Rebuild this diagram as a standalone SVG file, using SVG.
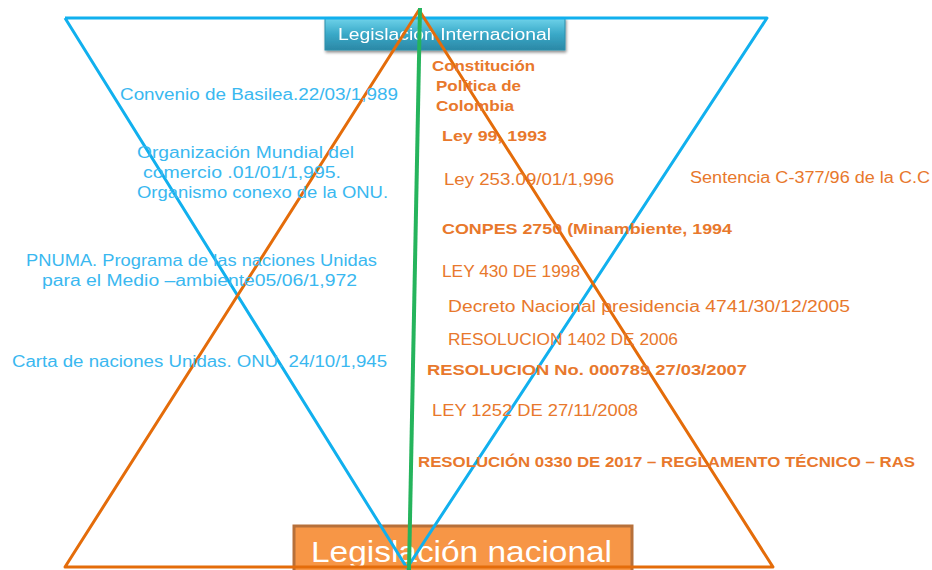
<svg xmlns="http://www.w3.org/2000/svg" width="932" height="570" viewBox="0 0 932 570">
<defs>
<linearGradient id="tealGrad" x1="0" y1="0" x2="0" y2="1">
<stop offset="0" stop-color="#6fd3ea"/>
<stop offset="0.5" stop-color="#3aa9c8"/>
<stop offset="1" stop-color="#2b88a6"/>
</linearGradient>
<filter id="shadow" x="-10%" y="-30%" width="120%" height="170%">
<feGaussianBlur in="SourceAlpha" stdDeviation="1.5"/>
<feOffset dx="1" dy="2" result="b"/>
<feComponentTransfer><feFuncA type="linear" slope="0.45"/></feComponentTransfer>
<feMerge><feMergeNode/><feMergeNode in="SourceGraphic"/></feMerge>
</filter>
</defs>
<style>
text { font-family: "Liberation Sans", Arial, sans-serif; }
.blue { fill: #3ab8f0; font-size: 16px; }
.or { fill: #e8782c; font-size: 16px; }
.orb { fill: #e8782c; font-size: 15px; font-weight: bold; }
.tri-blue { fill: none; stroke: #11b0ee; stroke-width: 3; stroke-linejoin: round; }
.tri-orange { fill: none; stroke: #e46c0a; stroke-width: 3; stroke-linejoin: round; }
.green { stroke: #25b45c; stroke-width: 4; }
</style>
<rect width="932" height="570" fill="#ffffff"/>

<g id="node-internacional" filter="url(#shadow)">
<rect x="325" y="18" width="240" height="32" fill="url(#tealGrad)" stroke="#2f8fab" stroke-width="1"/>
<text x="338" y="40" fill="#ffffff" font-size="16" textLength="213" lengthAdjust="spacingAndGlyphs">Legislación  Internacional</text>
</g>

<g id="node-nacional">
<rect x="294" y="526" width="338" height="50" fill="#f79646" stroke="#b7703a" stroke-width="3"/>
<text x="311" y="562" fill="#ffffff" font-size="30" textLength="301" lengthAdjust="spacingAndGlyphs">Legislación  nacional</text>
</g>

<g id="connectors">
<polyline class="tri-blue" points="65,18 767,18 407,568 65,18"/>
<polygon class="tri-orange" points="419,10 773,567 65,567"/>
<line class="green" x1="420" y1="8" x2="409" y2="570"/>
</g>

<g id="intl-texts">
<text class="blue" x="120" y="100" textLength="278" lengthAdjust="spacingAndGlyphs">Convenio de Basilea.22/03/1,989</text>
<text class="blue" x="137" y="158" textLength="217" lengthAdjust="spacingAndGlyphs">Organización Mundial del</text>
<text class="blue" x="143" y="178" textLength="198" lengthAdjust="spacingAndGlyphs">comercio .01/01/1,995.</text>
<text class="blue" x="137" y="198" textLength="251" lengthAdjust="spacingAndGlyphs">Organismo conexo de la ONU.</text>
<text class="blue" x="26" y="266" textLength="351" lengthAdjust="spacingAndGlyphs">PNUMA. Programa de las naciones Unidas</text>
<text class="blue" x="42" y="286" textLength="315" lengthAdjust="spacingAndGlyphs">para el Medio –ambiente05/06/1,972</text>
<text class="blue" x="12" y="367" textLength="375" lengthAdjust="spacingAndGlyphs">Carta de naciones Unidas. ONU. 24/10/1,945</text>
</g>

<g id="nat-texts">
<text class="orb" x="432" y="71" textLength="103" lengthAdjust="spacingAndGlyphs">Constitución</text>
<text class="orb" x="436" y="91" textLength="85" lengthAdjust="spacingAndGlyphs">Política de</text>
<text class="orb" x="436" y="111" textLength="78" lengthAdjust="spacingAndGlyphs">Colombia</text>
<text class="orb" x="442" y="141" textLength="105" lengthAdjust="spacingAndGlyphs">Ley 99, 1993</text>
<text class="or" x="444" y="185" textLength="170" lengthAdjust="spacingAndGlyphs">Ley 253.09/01/1,996</text>
<text class="or" x="690" y="183" textLength="240" lengthAdjust="spacingAndGlyphs">Sentencia C-377/96 de la C.C</text>
<text class="orb" x="442" y="234" textLength="290" lengthAdjust="spacingAndGlyphs">CONPES 2750 (Minambiente, 1994</text>
<text class="or" x="442" y="277" textLength="138" lengthAdjust="spacingAndGlyphs">LEY 430  DE 1998</text>
<text class="or" x="448" y="312" textLength="402" lengthAdjust="spacingAndGlyphs">Decreto Nacional  presidencia 4741/30/12/2005</text>
<text class="or" x="448" y="345" textLength="230" lengthAdjust="spacingAndGlyphs">RESOLUCION 1402 DE 2006</text>
<text class="orb" x="427" y="375" textLength="320" lengthAdjust="spacingAndGlyphs">RESOLUCION No. 000789  27/03/2007</text>
<text class="or" x="432" y="416" textLength="206" lengthAdjust="spacingAndGlyphs">LEY 1252 DE 27/11/2008</text>
<text class="orb" x="418" y="467" textLength="497" lengthAdjust="spacingAndGlyphs">RESOLUCIÓN 0330 DE 2017 – REGLAMENTO TÉCNICO – RAS</text>
</g>
</svg>
